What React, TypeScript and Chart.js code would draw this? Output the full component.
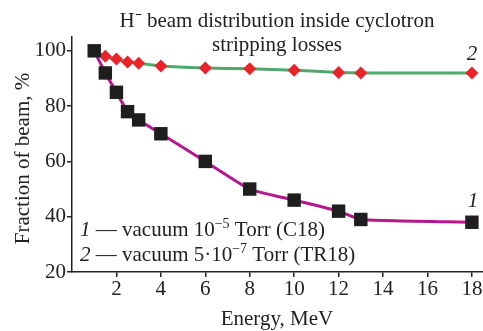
import React, { useEffect, useRef } from "react";
import { Chart, registerables } from "chart.js";

Chart.register(...registerables);

const energy1 = [1, 1.5, 2, 2.5, 3, 4, 6, 8, 10, 12, 13, 18];
const fraction1 = [100, 92, 85, 78, 75, 70, 60, 50, 46, 42, 39, 38];
const energy2 = [1, 1.5, 2, 2.5, 3, 4, 6, 8, 10, 12, 13, 18];
const fraction2 = [100, 98, 97, 96, 95.5, 94.5, 93.8, 93.5, 93, 92.2, 92, 92];
const xTicks = [2, 4, 6, 8, 10, 12, 14, 16, 18];
const yTicks = [20, 40, 60, 80, 100];
const titleLines = ["H\u207B beam distribution inside cyclotron", "stripping losses"];
const xTitle = "Energy, MeV";
const yTitle = "Fraction of beam, %";

const FONT = '"Liberation Serif", "Times New Roman", serif';
const FS = 21;

type Seg = { t: string; it?: boolean; sup?: boolean };

function drawRich(ctx: CanvasRenderingContext2D, segs: Seg[], x: number, y: number) {
  let cx = x;
  for (const s of segs) {
    const size = s.sup ? 14 : FS;
    ctx.font = `${s.it ? "italic " : ""}${size}px ${FONT}`;
    ctx.fillText(s.t, cx, s.sup ? y - 8 : y);
    cx += ctx.measureText(s.t).width;
  }
}

const annot = {
  id: "annot",
  afterDraw(chart: any) {
    const ctx: CanvasRenderingContext2D = chart.ctx;
    const ca = chart.chartArea;
    ctx.save();
    ctx.fillStyle = "#222";
    ctx.textBaseline = "alphabetic";
    ctx.textAlign = "center";
    ctx.font = `${FS}px ${FONT}`;
    ctx.fillText(titleLines[0], 277, 27);
    ctx.fillText(titleLines[1], 277, 51);
    ctx.fillText(xTitle, 277, 325);
    ctx.save();
    ctx.translate(29, (ca.top + ca.bottom) / 2 + 4);
    ctx.rotate(-Math.PI / 2);
    ctx.fillText(yTitle, 0, 0);
    ctx.restore();
    ctx.font = `italic ${FS}px ${FONT}`;
    ctx.fillText("1", 473, 207);
    ctx.fillText("2", 472, 60);
    ctx.textAlign = "left";
    drawRich(ctx, [{ t: "1", it: true }, { t: " \u2014 vacuum 10" }, { t: "\u22125", sup: true }, { t: " Torr (C18)" }], 80, 236);
    drawRich(ctx, [{ t: "2", it: true }, { t: " \u2014 vacuum 5\u00B710" }, { t: "\u22127", sup: true }, { t: " Torr (TR18)" }], 80, 261);
    ctx.restore();
  },
};

export default function App() {
  const ref = useRef<HTMLCanvasElement>(null);
  useEffect(() => {
    document.body.style.margin = "0";
    const chart = new Chart(ref.current!, {
      type: "scatter",
      data: {
        datasets: [
          {
            data: energy1.map((x, i) => ({ x, y: fraction1[i] })),
            showLine: true,
            borderColor: "#b5178f",
            borderWidth: 3,
            tension: 0.15,
            pointStyle: "rect",
            pointRadius: 9.5,
            pointBackgroundColor: "#1e1e1e",
            pointBorderColor: "#1e1e1e",
            pointBorderWidth: 0,
            clip: false,
          },
          {
            data: energy2.map((x, i) => ({ x, y: fraction2[i] })),
            showLine: true,
            borderColor: "#4fa86c",
            borderWidth: 3,
            tension: 0.15,
            pointStyle: "rectRot",
            pointRadius: energy2.map((_, i) => (i === 0 ? 0 : 6.5)),
            pointBackgroundColor: "#ea2329",
            pointBorderColor: "#ea2329",
            pointBorderWidth: 0,
            clip: false,
          },
        ],
      },
      options: {
        animation: false,
        responsive: false,
        layout: { autoPadding: false, padding: { top: 37, right: 0, left: 0, bottom: 0 } },
        plugins: { legend: { display: false }, tooltip: { enabled: false }, title: { display: false } },
        scales: {
          x: {
            type: "linear",
            min: 0,
            max: 18.5,
            afterBuildTicks: (axis: any) => {
              axis.ticks = xTicks.map((v) => ({ value: v }));
            },
            afterFit: (axis: any) => {
              axis.height = 59;
              axis.paddingRight = 0;
              axis.paddingLeft = 0;
            },
            grid: { drawOnChartArea: false, drawTicks: true, tickLength: 5, color: "#222", lineWidth: 1.5 },
            border: { display: true, color: "#222", width: 1.5 },
            ticks: { color: "#222", font: { family: FONT, size: FS }, padding: 0, maxRotation: 0 },
          },
          y: {
            type: "linear",
            min: 20,
            max: 105,
            afterBuildTicks: (axis: any) => {
              axis.ticks = yTicks.map((v) => ({ value: v }));
            },
            afterFit: (axis: any) => {
              axis.width = 72;
              axis.paddingTop = 0;
              axis.paddingBottom = 0;
            },
            grid: { drawOnChartArea: false, drawTicks: true, tickLength: 5, color: "#222", lineWidth: 1.5 },
            border: { display: true, color: "#222", width: 1.5 },
            ticks: { color: "#222", font: { family: FONT, size: FS }, padding: 1 },
          },
        },
      },
      plugins: [annot],
    });
    return () => chart.destroy();
  }, []);
  return <canvas ref={ref} width={483} height={331} style={{ display: "block" }} />;
}
